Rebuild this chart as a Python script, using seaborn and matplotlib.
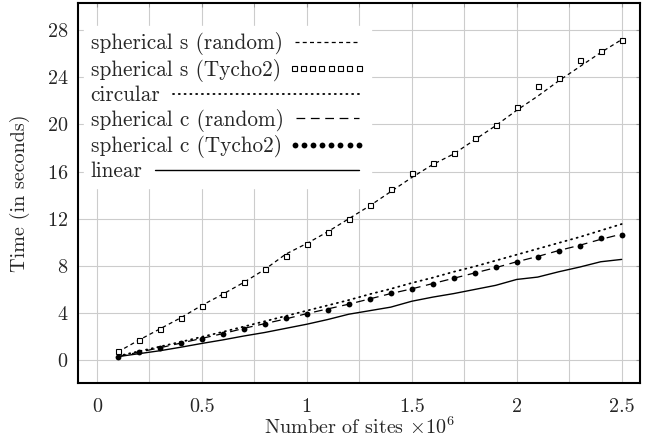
"""Run times of the site generators against the number of sites."""

import matplotlib
matplotlib.use('Agg')
import matplotlib.pyplot as plt
from matplotlib.legend_handler import HandlerLine2D
from matplotlib.ticker import MultipleLocator
import seaborn as sns

# number of sites (x 10^6)
sites = [0.1, 0.2, 0.3, 0.4, 0.5, 0.6, 0.7, 0.8, 0.9, 1.0, 1.1, 1.2, 1.3,
         1.4, 1.5, 1.6, 1.7, 1.8, 1.9, 2.0, 2.1, 2.2, 2.3, 2.4, 2.5]

# times in seconds
sph_s_random = [0.7, 1.7, 2.65, 3.6, 4.65, 5.6, 6.6, 7.7, 9.0, 9.9, 10.9,
                12.0, 13.1, 14.3, 15.5, 16.6, 17.5, 18.7, 19.9, 21.2, 22.4,
                23.7, 24.9, 26.1, 27.2]
sph_s_tycho2 = [0.8, 1.7, 2.65, 3.6, 4.6, 5.6, 6.6, 7.7, 8.8, 9.85, 10.85,
                12.0, 13.2, 14.5, 15.85, 16.7, 17.6, 18.85, 19.95, 21.5,
                23.3, 23.95, 25.5, 26.2, 27.15]
circular = [0.35, 0.75, 1.15, 1.55, 1.98, 2.4, 2.85, 3.3, 3.75, 4.2, 4.65,
            5.1, 5.6, 6.05, 6.55, 7.0, 7.5, 7.95, 8.45, 8.95, 9.45, 9.95,
            10.45, 11.0, 11.55]
sph_c_random = [0.3, 0.68, 1.05, 1.45, 1.85, 2.25, 2.7, 3.1, 3.5, 3.95, 4.35,
                4.75, 5.2, 5.65, 6.05, 6.5, 6.95, 7.4, 7.85, 8.35, 8.8, 9.3,
                9.75, 10.25, 10.7]
sph_c_tycho2 = [0.3, 0.7, 1.04, 1.44, 1.83, 2.26, 2.68, 3.1, 3.6, 3.92, 4.26,
                4.77, 5.17, 5.7, 6.04, 6.5, 7.0, 7.42, 7.88, 8.36, 8.78,
                9.29, 9.69, 10.39, 10.65]
linear = [0.3, 0.55, 0.8, 1.1, 1.42, 1.72, 2.05, 2.35, 2.7, 3.05, 3.45, 3.9,
          4.2, 4.5, 5.0, 5.35, 5.65, 6.0, 6.35, 6.85, 7.05, 7.5, 7.9, 8.35,
          8.55]

sns.set_style('whitegrid')
plt.rcParams['font.family'] = ['cmr10']
plt.rcParams['mathtext.fontset'] = 'cm'
plt.rcParams['axes.formatter.use_mathtext'] = True
plt.rcParams['font.size'] = 14.5

fig, ax = plt.subplots(figsize=(6.57, 4.4), dpi=100)
fig.subplots_adjust(left=0.119, right=0.974, bottom=0.13, top=0.993)

sns.lineplot(x=sites, y=sph_s_random, ax=ax, color='black', lw=0.9,
             linestyle=(0, (3.2, 2.6)), label='spherical s (random)')
sns.lineplot(x=sites, y=sph_s_tycho2, ax=ax, color='black', linestyle='none',
             marker='s', markersize=3.6, markerfacecolor='white',
             markeredgecolor='black', markeredgewidth=0.8,
             label='spherical s (Tycho2)')
sns.lineplot(x=sites, y=circular, ax=ax, color='black', lw=1.3,
             linestyle=(0, (0.6, 2.6)), dash_capstyle='round',
             label='circular')
sns.lineplot(x=sites, y=sph_c_random, ax=ax, color='black', lw=0.9,
             linestyle=(0, (7, 4.5)), label='spherical c (random)')
sns.lineplot(x=sites, y=sph_c_tycho2, ax=ax, color='black', linestyle='none',
             marker='o', markersize=4.2, markeredgewidth=0,
             label='spherical c (Tycho2)')
sns.lineplot(x=sites, y=linear, ax=ax, color='black', lw=1.0, label='linear')

ax.set_xlim(-0.089, 2.587)
ax.set_ylim(-1.92, 30.3)
ax.xaxis.set_major_locator(MultipleLocator(0.5))
ax.xaxis.set_minor_locator(MultipleLocator(0.25))
ax.yaxis.set_major_locator(MultipleLocator(4))
ax.xaxis.set_major_formatter(lambda v, pos: f'{v:g}')
ax.grid(True, which='both', color='#cccccc', lw=0.8)
ax.tick_params(which='both', direction='in', length=3, color='#999999',
               top=True, right=True, labelsize=14.5)
ax.tick_params(axis='x', pad=11)
ax.tick_params(axis='y', pad=7)
for spine in ax.spines.values():
    spine.set_color('black')
    spine.set_linewidth(1.5)
ax.set_xlabel(r'Number of sites $\times 10^6$', fontsize=14.5, labelpad=0)
ax.set_ylabel('Time (in seconds)', fontsize=14.5, labelpad=12)


class StretchHandler(HandlerLine2D):
    """Line handler whose sample fills a given width."""
    def __init__(self, width, **kw):
        super().__init__(**kw)
        self.width = width

    def legend_artist(self, legend, orig_handle, fontsize, handlebox):
        handlebox.width = self.width
        return super().legend_artist(legend, orig_handle, fontsize, handlebox)


legend_size = 15.3
handles, labels = ax.get_legend_handles_labels()
leg = ax.legend(handles, labels, markerfirst=False, fontsize=legend_size)
fig.canvas.draw()
renderer = fig.canvas.get_renderer()
text_w = [t.get_window_extent(renderer).width * 72 / fig.dpi
          for t in leg.get_texts()]
total = max(text_w) + 54
leg.remove()

handler_map = {}
for h, w in zip(handles, text_w):
    has_marker = h.get_marker() not in ('None', None, '')
    handler_map[h] = StretchHandler(total - w, numpoints=8 if has_marker else 2)

leg = ax.legend(handles, labels, markerfirst=False, loc='upper left',
                fontsize=legend_size, handler_map=handler_map, frameon=True,
                framealpha=1, edgecolor='white', fancybox=False,
                borderpad=0.3, labelspacing=0.17, handletextpad=0.3,
                bbox_to_anchor=(-0.008, 0.968))

fig.savefig('out.png', dpi=100)
